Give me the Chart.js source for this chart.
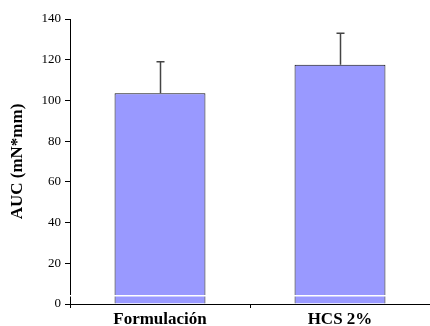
<!DOCTYPE html>
<html>
<head>
<meta charset="utf-8">
<script src="https://cdn.jsdelivr.net/npm/chart.js@4/dist/chart.umd.min.js"></script>
<style>
html,body{margin:0;padding:0;background:#fff;}
#wrap{width:430px;height:326px;}
</style>
</head>
<body>
<div id="wrap"><canvas id="c" width="430" height="326"></canvas></div>
<script>
const categories = ["Formulación", "HCS 2%"];
const auc = [103.5, 117.5];
const aucError = [15.5, 15.5];
const yTicks = [0, 20, 40, 60, 80, 100, 120, 140];
const breakValue = 4;

const errorBars = {
  id: 'errorBars',
  afterDatasetsDraw(chart) {
    const ctx = chart.ctx;
    const meta = chart.getDatasetMeta(0);
    const y = chart.scales.y;
    ctx.save();
    ctx.strokeStyle = '#444';
    ctx.lineWidth = 1.5;
    meta.data.forEach((bar, i) => {
      const x = Math.round(bar.x) + 0.5;
      const top = y.getPixelForValue(auc[i] + aucError[i]);
      const base = y.getPixelForValue(auc[i]);
      ctx.beginPath();
      ctx.moveTo(x, base);
      ctx.lineTo(x, top);
      ctx.moveTo(x - 4, top);
      ctx.lineTo(x + 4, top);
      ctx.stroke();
    });
    ctx.restore();
  },
  afterDraw(chart) {
    const ctx = chart.ctx;
    const y = chart.scales.y;
    const py = y.getPixelForValue(breakValue);
    ctx.save();
    ctx.strokeStyle = '#fff';
    ctx.lineWidth = 1.5;
    ctx.beginPath();
    ctx.moveTo(chart.chartArea.left - 3, py);
    ctx.lineTo(chart.chartArea.right, py);
    ctx.stroke();
    ctx.restore();
  }
};

new Chart(document.getElementById('c'), {
  type: 'bar',
  data: {
    labels: categories,
    datasets: [{
      data: auc,
      backgroundColor: '#9999FF',
      borderColor: '#111',
      borderWidth: 1,
      categoryPercentage: 1,
      barPercentage: 0.505
    }]
  },
  options: {
    responsive: false,
    animation: false,
    devicePixelRatio: 1,
    layout: { padding: { top: 19, right: 0, bottom: 0, left: 0 } },
    plugins: { legend: { display: false }, tooltip: { enabled: false } },
    scales: {
      x: {
        afterFit(s) { s.height = 22; },
        grid: { display: true, drawOnChartArea: false, offset: true, tickLength: 4, color: '#000' },
        border: { display: true, color: '#000', width: 1 },
        ticks: { color: '#000', padding: 1, font: { family: "'Liberation Serif', 'Times New Roman', serif", size: 17, weight: 'bold' } }
      },
      y: {
        min: 0,
        max: 140,
        afterFit(s) { s.width = 70; },
        afterBuildTicks(s) { s.ticks = yTicks.map(v => ({ value: v })); },
        grid: { display: true, drawOnChartArea: false, tickLength: 5, color: '#000' },
        border: { display: true, color: '#000', width: 1 },
        ticks: { color: '#000', padding: 4, font: { family: "'Liberation Serif', 'Times New Roman', serif", size: 13 } },
        title: {
          display: true,
          text: 'AUC (mN*mm)',
          color: '#000',
          padding: { top: 7, bottom: 0 },
          font: { family: "'Liberation Serif', 'Times New Roman', serif", size: 17, weight: 'bold' }
        }
      }
    }
  },
  plugins: [errorBars]
});
</script>
</body>
</html>
